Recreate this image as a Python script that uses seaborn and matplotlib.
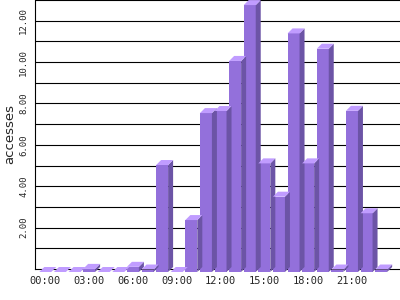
import matplotlib
matplotlib.use("Agg")
import matplotlib.pyplot as plt
import matplotlib.transforms as mtransforms
from matplotlib.patches import Polygon
import seaborn as sns
import pandas as pd

hours = ["00:00", "01:00", "02:00", "03:00", "04:00", "05:00", "06:00", "07:00",
         "08:00", "09:00", "10:00", "11:00", "12:00", "13:00", "14:00", "15:00",
         "16:00", "17:00", "18:00", "19:00", "20:00", "21:00", "22:00", "23:00"]
accesses = [0.0, 0.0, 0.0, 0.15, 0.0, 0.0, 0.25, 0.12,
            5.17, 0.0, 2.51, 7.68, 7.78, 10.2, 12.9, 5.25,
            3.64, 11.53, 5.25, 10.79, 0.12, 7.79, 2.84, 0.12]
tick_labels = ["00:00", "03:00", "06:00", "09:00", "12:00", "15:00", "18:00", "21:00"]
y_major = [2, 4, 6, 8, 10, 12]
y_grid = [1, 2, 3, 4, 5, 6, 7, 8, 9, 10, 11, 12, 13]

FRONT = "#9370db"
SIDE = "#6c54a6"
TOP = "#c09cff"

sns.set_style("white")
plt.rcParams["font.family"] = ["DejaVu Sans Mono", "DejaVu Sans"]

W, H, DPI = 400, 300, 100
fig = plt.figure(figsize=(W / DPI, H / DPI), dpi=DPI)
ax_l, ax_b, ax_w, ax_h = 35, 31, 365, 269
ax = fig.add_axes([ax_l / W, ax_b / H, ax_w / W, ax_h / H])

df = pd.DataFrame({"hour": hours, "accesses": accesses})
sns.barplot(data=df, x="hour", y="accesses", color=FRONT, saturation=1,
            width=0.82, ax=ax, zorder=3, edgecolor="none", linewidth=0)

xmin, xmax = -0.705, 24.29
ymin, ymax = 0, 13
ax.set_xlim(xmin, xmax)
ax.set_ylim(ymin, ymax)

# 3D depth faces
depth_px = 5
dx = depth_px * (xmax - xmin) / ax_w
dy = depth_px * (ymax - ymin) / ax_h
shift = mtransforms.ScaledTranslation(0, -3 / DPI, fig.dpi_scale_trans)
for p in list(ax.patches):
    x0, w, h = p.get_x(), p.get_width(), p.get_height()
    side = Polygon([(x0 + w, 0), (x0 + w + dx, dy), (x0 + w + dx, h + dy), (x0 + w, h)],
                   closed=True, facecolor=SIDE, edgecolor="none", zorder=3)
    top = Polygon([(x0, h), (x0 + dx, h + dy), (x0 + w + dx, h + dy), (x0 + w, h)],
                  closed=True, facecolor=TOP, edgecolor="none", zorder=3)
    ax.add_patch(side)
    ax.add_patch(top)
for p in ax.patches:
    p.set_transform(ax.transData + shift)
    p.set_clip_on(False)

# axes styling
ax.set_yticks(y_major)
ax.set_yticklabels([f"{v:.2f}" for v in y_major], rotation=90, va="center",
                   fontsize=6.5)
ax.set_yticks(y_grid, minor=True)
ax.yaxis.grid(True, which="both", color="black", linewidth=0.8, zorder=1)
ax.set_axisbelow(True)

tick_pos = [hours.index(t) for t in tick_labels]
ax.set_xticks(tick_pos)
ax.set_xticklabels(tick_labels, fontsize=7.5)
xshift = mtransforms.ScaledTranslation(2.5 / DPI, 0, fig.dpi_scale_trans)
for lbl in ax.get_xticklabels():
    lbl.set_transform(lbl.get_transform() + xshift)

ax.tick_params(axis="both", which="both", length=0)
ax.tick_params(axis="x", pad=5)
ax.tick_params(axis="y", pad=5)

ax.set_xlabel("")
ax.set_ylabel("accesses", fontsize=9.5, family="DejaVu Sans")
ax.yaxis.label.set_va("center")
ax.yaxis.set_label_coords(-(ax_l - 9.5) / ax_w, 0.5)

for s in ["top", "right"]:
    ax.spines[s].set_visible(False)
for s in ["left", "bottom"]:
    ax.spines[s].set_color("black")
    ax.spines[s].set_linewidth(0.8)

fig.savefig("out.png", dpi=DPI)
